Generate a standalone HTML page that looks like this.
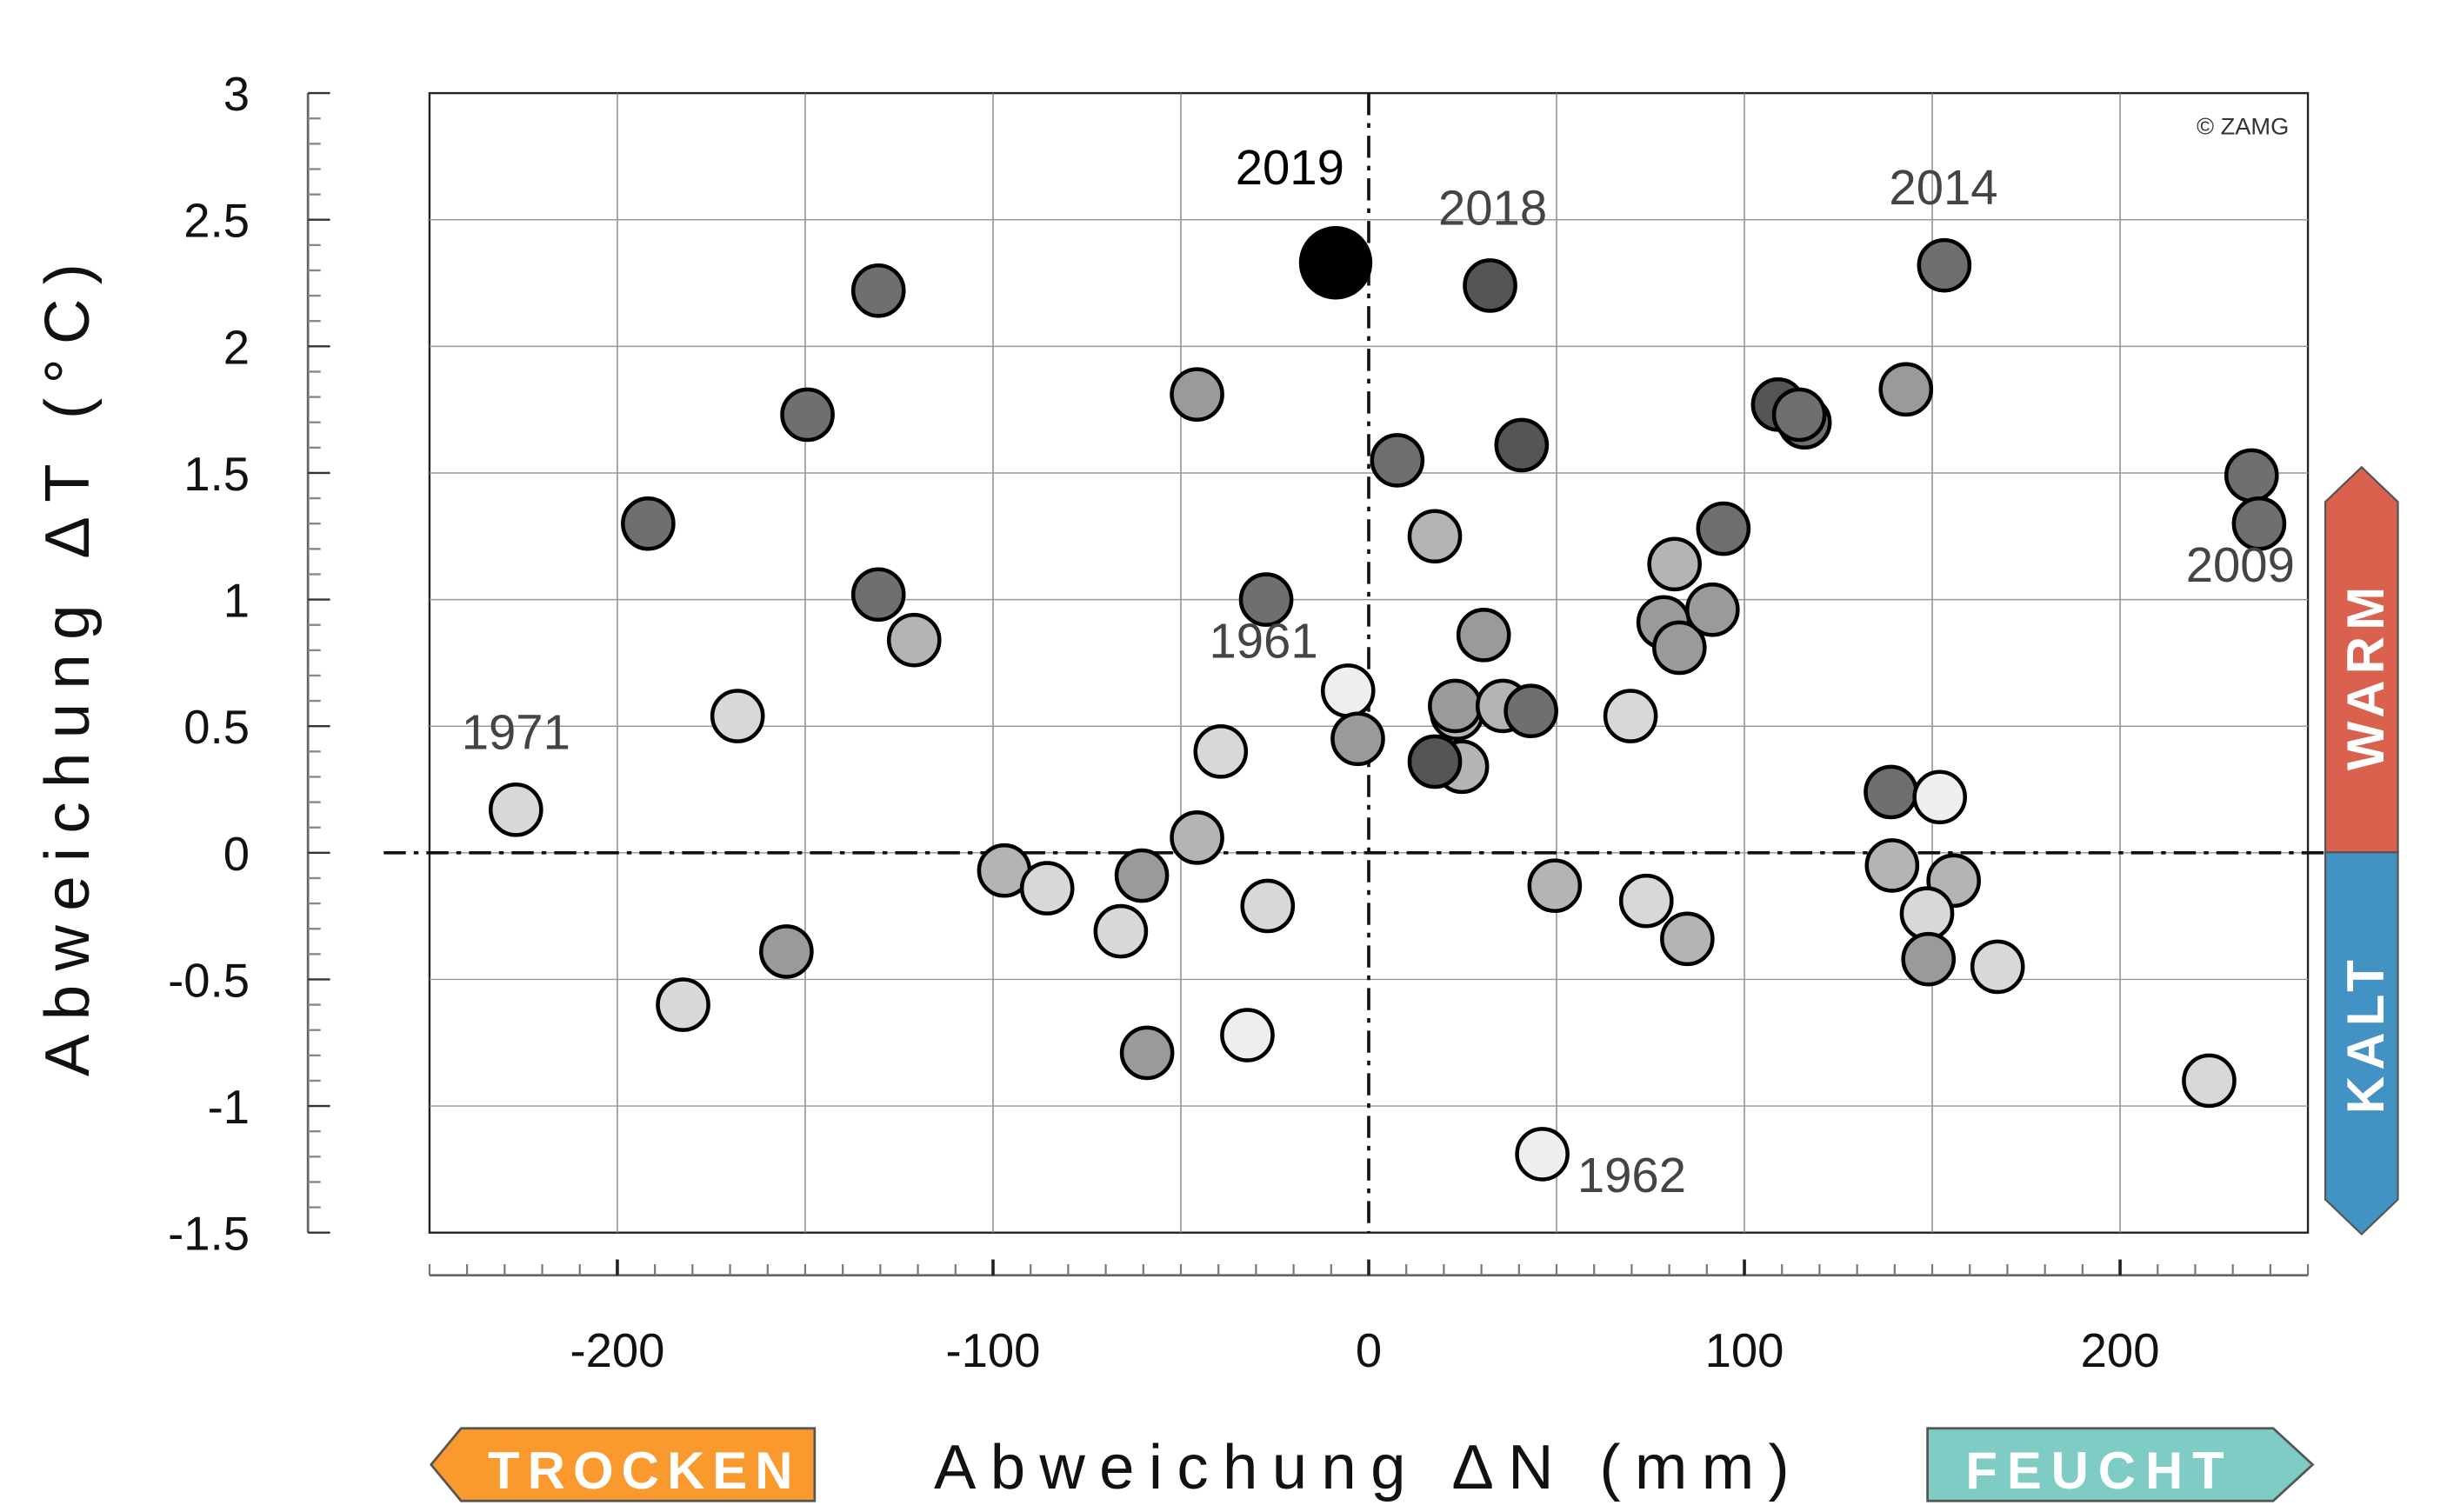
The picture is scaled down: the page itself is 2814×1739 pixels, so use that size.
<!DOCTYPE html>
<html><head><meta charset="utf-8"><style>
html,body{margin:0;padding:0;background:#fff}
svg{display:block}
text{font-family:"Liberation Sans",sans-serif}
</style></head><body>
<svg id="chart" width="2814" height="1739" viewBox="0 0 1550 958" xmlns="http://www.w3.org/2000/svg">
<g id="grid"></g>
<g id="axes"></g>
<g id="points"></g>
<g id="labels"></g>
<text x="1450" y="85" text-anchor="end" font-size="15" fill="#333">© ZAMG</text>
<text transform="translate(56,420) rotate(-90)" text-anchor="middle" font-size="40" letter-spacing="9" fill="#111">Abweichung  ΔT (°C)</text>
<text x="867" y="943" text-anchor="middle" font-size="40" letter-spacing="9" fill="#111">Abweichung  ΔN (mm)</text>
<g>
<polygon points="273,928 292,905 516,905 516,951 292,951" fill="#FA9A2E" stroke="#555" stroke-width="1.5"/>
<text x="408" y="943" text-anchor="middle" font-size="33" font-weight="bold" letter-spacing="5" fill="#fff">TROCKEN</text>
</g>
<g>
<polygon points="1221,905 1440,905 1465,928 1440,951 1221,951" fill="#7ECCC4" stroke="#555" stroke-width="1.5"/>
<text x="1330" y="943" text-anchor="middle" font-size="33" font-weight="bold" letter-spacing="6" fill="#fff">FEUCHT</text>
</g>
<g>
<polygon points="1473,318 1496,296 1519,318 1519,540 1473,540" fill="#D9614E" stroke="#555" stroke-width="1.2"/>
<text transform="translate(1510,428) rotate(-90)" text-anchor="middle" font-size="33" font-weight="bold" letter-spacing="4" fill="#fff">WARM</text>
</g>
<g>
<polygon points="1473,540 1519,540 1519,760 1496,782 1473,760" fill="#4392C4" stroke="#555" stroke-width="1.2"/>
<text transform="translate(1510,655) rotate(-90)" text-anchor="middle" font-size="33" font-weight="bold" letter-spacing="4" fill="#fff">KALT</text>
</g>
</svg>
<script>
const precip=[-227,-182.5,-191.8,-168,-155,-149.4,-130.5,-130.5,-121,-97,-85.6,-66,-60.4,-59,-45.7,-45.7,-39.4,-32.3,-26.9,-27.3,-5.5,-2.9,7.6,17.6,24.8,23.5,23,35.7,32.3,30.6,40.7,43.2,46.2,49.5,69.7,73.9,84.8,81.4,78.5,82.7,91.5,94.4,109,116,114.6,153.2,143,139,152,139.3,155.7,148.6,149,167.4,223.7,235,237,17.6,-8.8];
const temp=[0.17,-0.6,1.30,0.54,-0.39,1.73,2.22,1.02,0.84,-0.07,-0.14,-0.31,-0.09,-0.79,0.06,1.81,0.40,-0.72,-0.21,1.00,0.64,0.45,1.55,1.25,0.34,0.55,0.58,0.58,2.24,0.86,1.61,0.56,-1.19,-0.13,0.54,-0.19,-0.34,1.14,0.91,0.81,0.96,1.28,1.77,1.70,1.73,2.32,1.83,0.24,0.22,-0.05,-0.11,-0.24,-0.42,-0.45,-0.9,1.49,1.30,0.36,2.33];
const shade=[4,4,1,4,2,1,1,1,3,3,4,4,2,2,3,2,4,5,4,1,5,2,1,3,3,3,2,3,0,2,0,1,5,3,4,4,3,3,2,2,2,1,0,1,1,1,2,1,5,3,3,4,2,4,4,1,1,0,6];
const labelYears=["1971","2019","2018","2014","2009","1961","1962"];
const labelX=[-227,-21,33,153,232,-28,70];
const labelY=[0.41,2.64,2.48,2.56,1.07,0.77,-1.34];
const yTicks=["3","2.5","2","1.5","1","0.5","0","-0.5","-1","-1.5"];
const xTicks=["-200","-100","0","100","200"];
const palette=["#555555","#6f6f6f","#9a9a9a","#b4b4b4","#d8d8d8","#eeeeee","#000000"];
const L=272,R=1462,T=59,B=781;
const sx=v=>L+(v+250)/500*(R-L);
const sy=v=>T+(3-v)/4.5*(B-T);
const NS="http://www.w3.org/2000/svg";
function mk(tag,attrs,parent){const e=document.createElementNS(NS,tag);for(const k in attrs)e.setAttribute(k,attrs[k]);parent.appendChild(e);return e;}
const grid=document.getElementById('grid'),axes=document.getElementById('axes'),pts=document.getElementById('points'),lab=document.getElementById('labels');
mk('rect',{x:L,y:T,width:R-L,height:B-T,fill:'none',stroke:'#222','stroke-width':1.3},grid);
for(let v=-200;v<=200;v+=50){if(v===0)continue;const l=mk('line',{x1:sx(v),x2:sx(v),y1:T,y2:B,stroke:'#888','stroke-width':0.8},grid);

}
for(let v=-1;v<=2.5;v+=0.5){const l=mk('line',{x1:L,x2:R,y1:sy(v),y2:sy(v),stroke:'#999','stroke-width':0.8},grid);

}
mk('line',{x1:195,x2:195,y1:sy(3),y2:sy(-1.5),stroke:'#666','stroke-width':1.5},axes);
for(let i=0;i<=45;i++){const v=3-i*0.1;const major=i%5===0;mk('line',{x1:195,x2:major?209:203,y1:sy(v),y2:sy(v),stroke:major?'#333':'#888','stroke-width':1.3},axes);}
yTicks.forEach(t=>{const e=mk('text',{x:158,y:sy(parseFloat(t))+11,'text-anchor':'end','font-size':30,fill:'#111'},axes);e.textContent=t;

});
mk('line',{x1:sx(-250),x2:sx(250),y1:808,y2:808,stroke:'#666','stroke-width':1.5},axes);
for(let v=-250;v<=250;v+=10){const major=v%100===0;mk('line',{x1:sx(v),x2:sx(v),y1:808,y2:major?798:801,stroke:major?'#222':'#777','stroke-width':major?2:1.2},axes);}
xTicks.forEach(t=>{const e=mk('text',{x:sx(parseFloat(t)),y:866,'text-anchor':'middle','font-size':30,fill:'#111'},axes);e.textContent=t;

});
mk('line',{x1:243,x2:1472,y1:sy(0),y2:sy(0),stroke:'#111','stroke-width':2,'stroke-dasharray':'14,5,3,5'},axes);
mk('line',{x1:sx(0),x2:sx(0),y1:T,y2:B,stroke:'#111','stroke-width':2,'stroke-dasharray':'14,5,3,5'},axes);
precip.forEach((p,i)=>{const big=shade[i]===6;const c=mk('circle',{cx:sx(p),cy:sy(temp[i]),r:big?22:16,fill:palette[shade[i]],stroke:'#000','stroke-width':2.5},pts);

});
labelYears.forEach((y,i)=>{const e=mk('text',{x:sx(labelX[i]),y:sy(labelY[i]),'text-anchor':'middle','font-size':y==='2019'?31:31,fill:y==='2019'?'#000':'#444'},lab);e.textContent=y;

});
</script>
</body></html>
